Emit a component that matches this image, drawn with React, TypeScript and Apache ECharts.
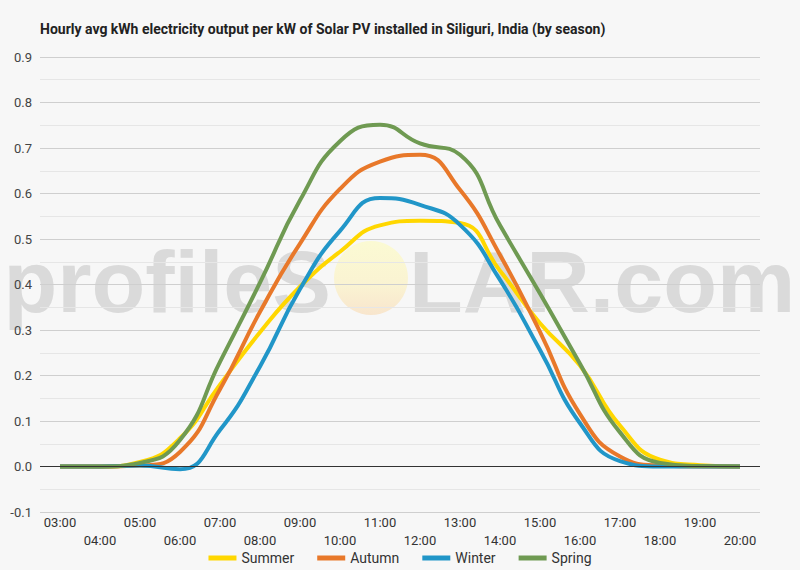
import * as echarts from 'echarts'
import { useEffect, useRef } from 'react'

const hours = [
  '03:00', '04:00', '05:00', '06:00', '07:00', '08:00', '09:00', '10:00', '11:00',
  '12:00', '13:00', '14:00', '15:00', '16:00', '17:00', '18:00', '19:00', '20:00',
]

const summer = [0, 0, 0.01, 0.062, 0.18, 0.295, 0.395, 0.472, 0.53, 0.54, 0.535, 0.43, 0.315, 0.222, 0.09, 0.015, 0.003, 0]
const autumn = [0, 0, 0.002, 0.032, 0.17, 0.34, 0.49, 0.61, 0.67, 0.685, 0.608, 0.465, 0.296, 0.115, 0.022, 0.002, 0, 0]
const winter = [0, 0, 0.002, -0.006, 0.08, 0.22, 0.39, 0.518, 0.59, 0.575, 0.531, 0.41, 0.256, 0.095, 0.012, 0, 0, 0]
const spring = [0, 0, 0.008, 0.058, 0.23, 0.404, 0.585, 0.715, 0.751, 0.71, 0.685, 0.53, 0.38, 0.226, 0.075, 0.008, 0.001, 0]

const seasons = [
  { name: 'Summer', data: summer, color: '#ffd700' },
  { name: 'Autumn', data: autumn, color: '#e8782a' },
  { name: 'Winter', data: winter, color: '#2196c8' },
  { name: 'Spring', data: spring, color: '#6f9a52' },
]

const font = 'Roboto, "Noto Sans", sans-serif'
const markFont = 'bold 88px "Liberation Sans", Arial, sans-serif'
const markFill = 'rgba(170,170,170,0.38)'

export default function App() {
  const ref = useRef<HTMLDivElement>(null)

  useEffect(() => {
    document.body.style.margin = '0'
    if (!ref.current) return
    const chart = echarts.init(ref.current, undefined, { renderer: 'svg' })
    chart.setOption({
      animation: false,
      backgroundColor: '#f7f7f7',
      textStyle: { fontFamily: font },
      title: {
        text: 'Hourly avg kWh electricity output per kW of Solar PV installed in Siliguri, India (by season)',
        left: 35,
        top: 17,
        textStyle: { fontSize: 14, fontWeight: 'bold', color: '#222', fontFamily: font },
      },
      // 水印：profileS ● LAR.com
      graphic: [
        {
          type: 'text',
          z: -10,
          silent: true,
          style: {
            text: 'profileS',
            x: 331,
            y: 325,
            align: 'right',
            verticalAlign: 'bottom',
            font: markFont,
            fill: markFill,
          },
        },
        {
          type: 'circle',
          z: -10,
          silent: true,
          shape: { cx: 371, cy: 278, r: 37 },
          style: {
            fill: new echarts.graphic.LinearGradient(0, 0, 0, 1, [
              { offset: 0, color: '#fbfad3' },
              { offset: 0.6, color: '#faf3d2' },
              { offset: 1, color: '#f8e5cd' },
            ]),
          },
        },
        {
          type: 'text',
          z: -10,
          silent: true,
          style: {
            text: 'LAR.com',
            x: 409,
            y: 325,
            align: 'left',
            verticalAlign: 'bottom',
            font: markFont,
            fill: markFill,
          },
        },
      ],
      legend: {
        bottom: 0,
        left: 'center',
        icon: 'rect',
        itemWidth: 28,
        itemHeight: 5,
        itemGap: 23,
        textStyle: { fontSize: 14, color: '#333', fontFamily: font },
        data: seasons.map((s) => s.name),
      },
      grid: { left: 40, right: 40, top: 57, bottom: 58 },
      xAxis: {
        type: 'category',
        data: hours,
        boundaryGap: true,
        axisLine: { show: false, onZero: false },
        axisTick: { show: false },
        axisLabel: {
          interval: 0,
          margin: 1,
          fontSize: 13,
          lineHeight: 18,
          color: '#333',
          formatter: (v: string, i: number) => (i % 2 ? `\n${v}` : v),
        },
      },
      yAxis: {
        type: 'value',
        min: -0.1,
        max: 0.9,
        interval: 0.1,
        axisLine: { show: false },
        axisTick: { show: false },
        axisLabel: {
          fontSize: 13,
          color: '#444',
          margin: 8,
          formatter: (v: number) => v.toFixed(1),
        },
        splitLine: { lineStyle: { color: '#cfcfcf', width: 1 } },
        minorTick: { show: false, splitNumber: 2 },
        minorSplitLine: { show: true, lineStyle: { color: '#e6e6e6', width: 1 } },
      },
      series: seasons.map((s, i) => ({
        name: s.name,
        type: 'line',
        data: s.data,
        smooth: 0.5,
        showSymbol: false,
        symbol: 'none',
        color: s.color,
        lineStyle: { width: 4, color: s.color },
        markLine:
          i === 0
            ? {
                silent: true,
                symbol: 'none',
                label: { show: false },
                lineStyle: { color: '#333', width: 1, type: 'solid' },
                data: [{ yAxis: 0 }],
              }
            : undefined,
      })),
    })
    return () => {
      chart.dispose()
    }
  }, [])

  return <div ref={ref} style={{ width: 800, height: 570 }} />
}
